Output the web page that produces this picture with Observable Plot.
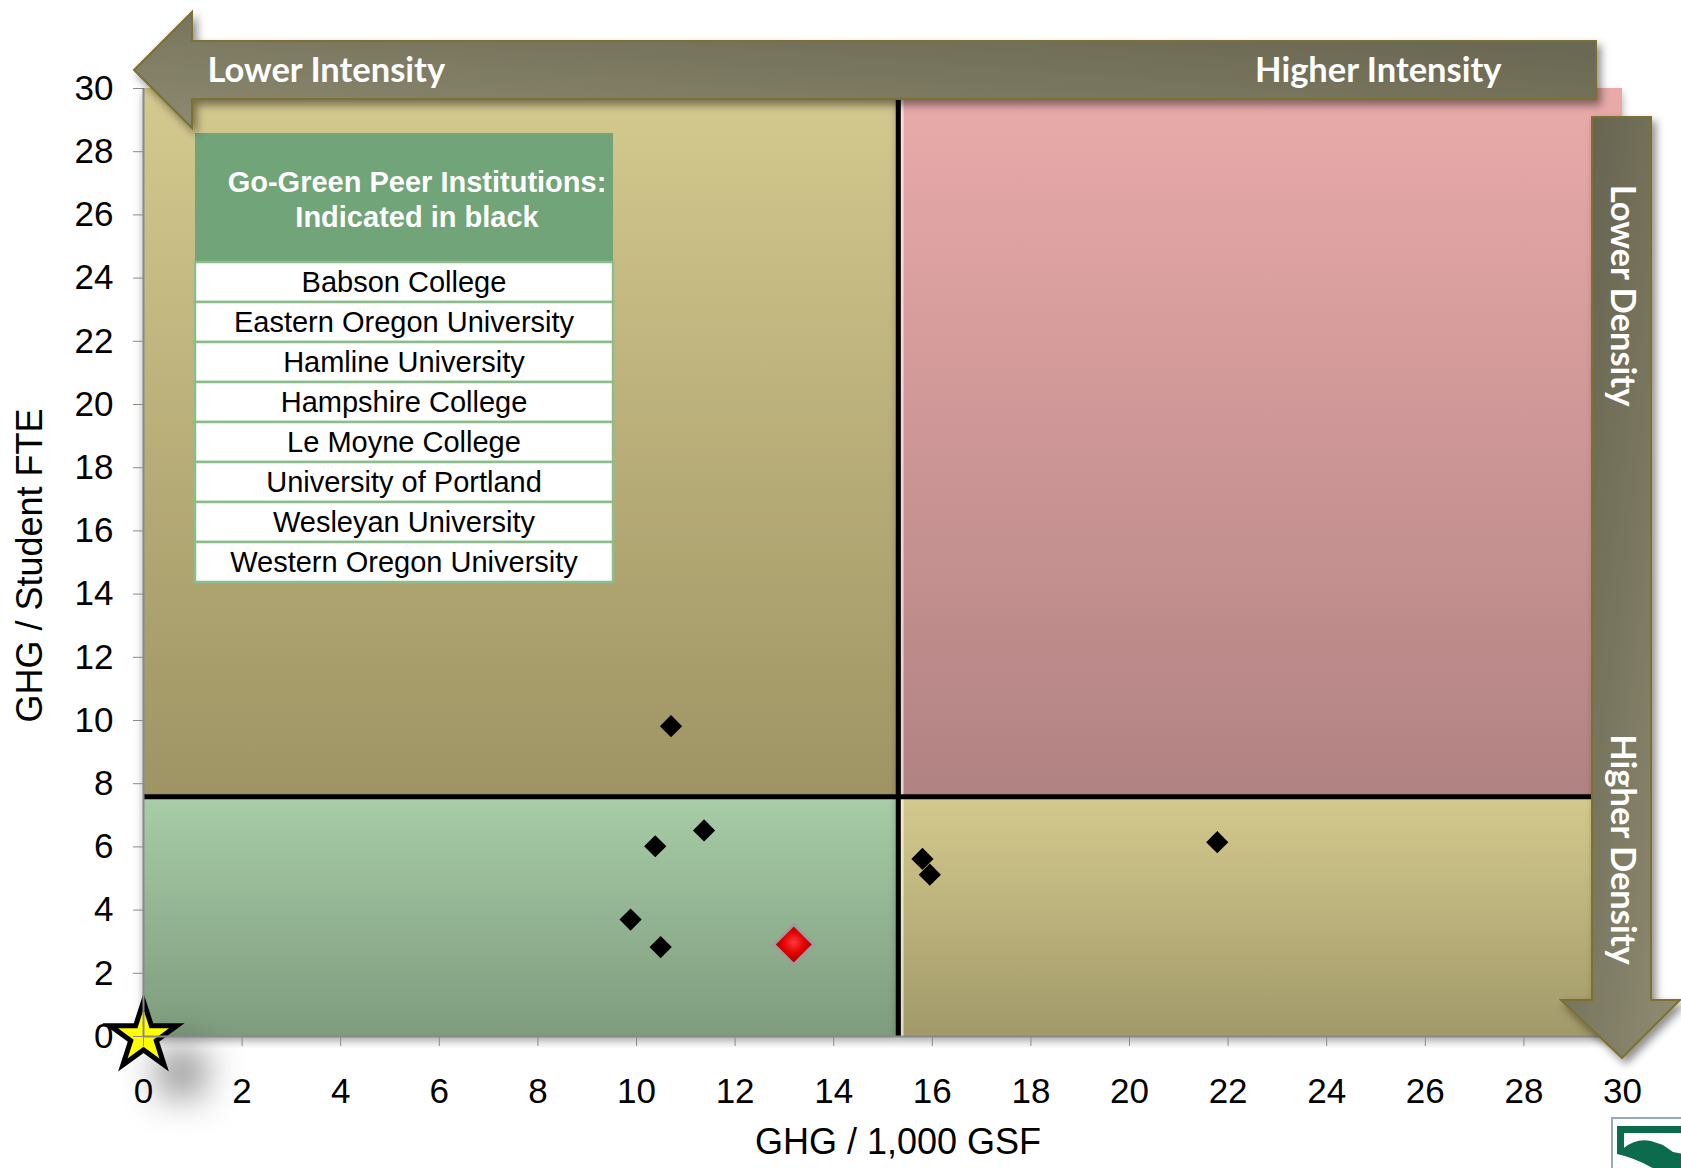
<!DOCTYPE html>
<html>
<head>
<meta charset="utf-8">
<script src="https://cdn.jsdelivr.net/npm/d3@7"></script>
<script src="https://cdn.jsdelivr.net/npm/@observablehq/plot@0.6"></script>
<style>
  html, body { margin: 0; padding: 0; background: #fff; }
  #chart { position: relative; width: 1681px; height: 1168px; overflow: hidden; }
</style>
</head>
<body>
<div id="chart"></div>
<script>
// Peer institutions (black diamonds): GHG per 1,000 GSF and GHG per student FTE
const peerNames = [
  "Babson College",
  "Eastern Oregon University",
  "Hamline University",
  "Hampshire College",
  "Le Moyne College",
  "University of Portland",
  "Wesleyan University",
  "Western Oregon University"
];
const peerGSF = [10.70, 10.38, 11.37, 9.88, 10.49, 15.80, 15.95, 21.78];
const peerFTE = [9.82, 6.02, 6.52, 3.70, 2.83, 5.62, 5.12, 6.15];

// Home campus (red gem)
const campusGSF = [13.19];
const campusFTE = [2.91];

// Carbon-neutral target (star at the origin)
const targetGSF = [0];
const targetFTE = [0];

// Quadrant split values
const splitGSF = 15.31;
const splitFTE = 7.59;

// Axis extent and tick values
const axisMax = 30;
const axisTicks = [0, 2, 4, 6, 8, 10, 12, 14, 16, 18, 20, 22, 24, 26, 28, 30];

// Text
const xTitle = "GHG / 1,000 GSF";
const yTitle = "GHG / Student FTE";
const tableTitle = ["Go-Green Peer Institutions:", "Indicated in black"];
const intensityLabels = ["Lower Intensity", "Higher Intensity"];
const densityLabels = ["Lower Density", "Higher Density"];

const peers = peerGSF.map((x, i) => ({x, y: peerFTE[i]}));
const campus = campusGSF.map((x, i) => ({x, y: campusFTE[i]}));
const target = targetGSF.map((x, i) => ({x, y: targetFTE[i]}));
const quadrant = {
  ul: [{x1: 0, x2: splitGSF, y1: splitFTE, y2: axisMax}],
  ll: [{x1: 0, x2: splitGSF, y1: 0, y2: splitFTE}],
  ur: [{x1: splitGSF, x2: axisMax, y1: splitFTE, y2: axisMax}],
  lr: [{x1: splitGSF, x2: axisMax, y1: 0, y2: splitFTE}]
};

const SANS = "'Liberation Sans', Arial, sans-serif";
const LABEL_FONT = "Lato, 'Open Sans', sans-serif";
const LABEL_SIZE = 34.5;

// Gradients and shadow filters shared by the marks
function defs() {
  const g = d3.create("svg:g");
  const d = g.append("defs");
  const lin = (id, stops, x1 = 0, y1 = 0, x2 = 0, y2 = 1) => {
    const lg = d.append("linearGradient").attr("id", id)
      .attr("x1", x1).attr("y1", y1).attr("x2", x2).attr("y2", y2);
    stops.forEach(([o, c]) => lg.append("stop").attr("offset", o).attr("stop-color", c));
  };
  lin("q-ul", [[0, "#d4c98e"], [1, "#9e9464"]]);
  lin("q-ll", [[0, "#a8cda7"], [1, "#7e9b7e"]]);
  lin("q-ur", [[0, "#eaaaaa"], [1, "#b18282"]]);
  lin("q-lr", [[0, "#d4ca8e"], [1, "#a19969"]]);
  lin("arrow-h", [[0, "#8e8a71"], [1, "#63614c"]], 0, 1, 1, 0);
  lin("arrow-v", [[0, "#605e4a"], [1, "#918d74"]], 0, 0, 1, 1);
  const rg = d.append("radialGradient").attr("id", "gem").attr("cx", 0.5).attr("cy", 0.45).attr("r", 0.6);
  rg.append("stop").attr("offset", 0).attr("stop-color", "#ff3a3a");
  rg.append("stop").attr("offset", 0.45).attr("stop-color", "#e00000");
  rg.append("stop").attr("offset", 1).attr("stop-color", "#8c0000");
  const f1 = d.append("filter").attr("id", "arrow-shadow")
    .attr("x", "-20%").attr("y", "-20%").attr("width", "150%").attr("height", "150%");
  f1.append("feDropShadow").attr("dx", 4).attr("dy", 5).attr("stdDeviation", 4)
    .attr("flood-color", "#000").attr("flood-opacity", 0.45);
  const f2 = d.append("filter").attr("id", "star-shadow").attr("filterUnits", "userSpaceOnUse")
    .attr("x", 0).attr("y", 880).attr("width", 420).attr("height", 288);
  f2.append("feDropShadow").attr("dx", 38).attr("dy", 36).attr("stdDeviation", 17)
    .attr("flood-color", "#000").attr("flood-opacity", 0.45);
  const f3 = d.append("filter").attr("id", "frame-shadow")
    .attr("x", "-5%").attr("y", "-5%").attr("width", "110%").attr("height", "110%");
  f3.append("feDropShadow").attr("dx", 0).attr("dy", 5).attr("stdDeviation", 4)
    .attr("flood-color", "#000").attr("flood-opacity", 0.35);
  return g.node();
}

// Peer list table in the upper-left quadrant
function peerTable(index, scales, values, dims) {
  const L = dims.marginLeft, T = dims.marginTop;
  const x0 = L + 52, w = 418, y0 = T + 45, headH = 129, rowH = 40;
  const g = d3.create("svg:g").attr("font-family", SANS);
  g.append("rect").attr("x", x0).attr("y", y0).attr("width", w).attr("height", headH).attr("fill", "#71a479");
  tableTitle.forEach((t, i) => {
    g.append("text").attr("x", x0 + w / 2 + 13).attr("y", y0 + 49 + 35 * i).attr("dy", "0.35em")
      .attr("text-anchor", "middle").attr("fill", "#fff").attr("font-weight", "bold")
      .attr("font-size", 29).text(t);
  });
  peerNames.forEach((n, i) => {
    const y = y0 + headH + i * rowH;
    g.append("rect").attr("x", x0).attr("y", y).attr("width", w).attr("height", rowH)
      .attr("fill", "#fff").attr("stroke", "#8dbd8d").attr("stroke-width", 2.5);
    g.append("text").attr("x", x0 + w / 2).attr("y", y + rowH / 2).attr("dy", "0.36em")
      .attr("text-anchor", "middle").attr("fill", "#000").attr("font-size", 29).text(n);
  });
  return g.node();
}

// Direction arrows along the top and right edges of the frame
function arrows(index, scales, values, dims) {
  const L = dims.marginLeft, T = dims.marginTop;
  const R = dims.width - dims.marginRight, B = dims.height - dims.marginBottom;
  const g = d3.create("svg:g").attr("filter", "url(#arrow-shadow)")
    .attr("stroke", "#7b6f33").attr("stroke-width", 2).attr("stroke-linejoin", "miter");
  const top = [[L - 9, T - 18], [L + 49, T - 76], [L + 49, T - 47], [R - 26, T - 47],
               [R - 26, T + 11], [L + 49, T + 11], [L + 49, T + 40]];
  const right = [[R - 30, T + 29], [R + 29, T + 29], [R + 29, B - 36], [R + 58, B - 36],
                 [R, B + 22], [R - 61, B - 36], [R - 30, B - 36]];
  const line = d3.line();
  g.append("path").attr("d", line(top) + "Z").attr("fill", "url(#arrow-h)");
  g.append("path").attr("d", line(right) + "Z").attr("fill", "url(#arrow-v)");
  return g.node();
}

// Partial campus logo in the bottom-right corner
function logo(index, scales, values, dims) {
  const W = dims.width, H = dims.height;
  const g = d3.create("svg:g");
  g.append("rect").attr("x", W - 69).attr("y", H - 50).attr("width", 90).attr("height", 70)
    .attr("fill", "#fff").attr("stroke", "#93a9c6").attr("stroke-width", 2);
  g.append("path")
    .attr("d", `M${W - 64},${H - 42} L${W + 2},${H - 42} L${W + 2},${H - 35} L${W - 57},${H - 35}
      L${W - 57},${H - 20} Q${W - 45},${H - 30} ${W - 30},${H - 27} L${W - 18},${H - 23}
      L${W - 8},${H - 16} L${W + 2},${H - 14} L${W + 2},${H + 2} L${W - 25},${H + 2}
      Q${W - 45},${H - 10} ${W - 64},${H - 14} Z`)
    .attr("fill", "#0b6b4c");
  return g.node();
}

const labelStyle = {fontFamily: LABEL_FONT, fontWeight: 700, fontSize: LABEL_SIZE, fill: "#fff", lineAnchor: "middle"};

const plot = Plot.plot({
  width: 1681,
  height: 1168,
  marginLeft: 143,
  marginRight: 59,
  marginTop: 88,
  marginBottom: 132,
  x: {domain: [0, axisMax]},
  y: {domain: [0, axisMax]},
  style: {fontFamily: SANS, color: "#000", background: "#fff", overflow: "visible"},
  marks: [
    defs,
    Plot.rect(quadrant.ul, {x1: "x1", x2: "x2", y1: "y1", y2: "y2", fill: "url(#q-ul)"}),
    Plot.rect(quadrant.ll, {x1: "x1", x2: "x2", y1: "y1", y2: "y2", fill: "url(#q-ll)"}),
    Plot.rect(quadrant.ur, {x1: "x1", x2: "x2", y1: "y1", y2: "y2", fill: "url(#q-ur)"}),
    Plot.rect(quadrant.lr, {x1: "x1", x2: "x2", y1: "y1", y2: "y2", fill: "url(#q-lr)"}),
    Plot.ruleX([splitGSF], {y1: 0, y2: axisMax, dx: 4, stroke: "#fff", strokeOpacity: 0.65, strokeWidth: 2.5}),
    Plot.ruleX([splitGSF], {y1: 0, y2: axisMax, stroke: "#000", strokeWidth: 5}),
    Plot.ruleY([splitFTE], {x1: 0, x2: axisMax, stroke: "#000", strokeWidth: 5}),
    peerTable,
    Plot.dot(peers, {x: "x", y: "y", symbol: "diamond2", r: 10, fill: "#000", stroke: "none"}),
    Plot.dot(campus, {x: "x", y: "y", symbol: "diamond2", r: 18, fill: "url(#gem)", stroke: "#9c9c9c", strokeWidth: 3}),
    Plot.dot(target, {x: "x", y: "y", symbol: "star", r: 21, fill: "#ffff00", stroke: "#000", strokeWidth: 5, strokeLinejoin: "miter"}),
    Plot.ruleX([0], {y1: 0, y2: axisMax, stroke: "#8a8a8a", strokeWidth: 2}),
    Plot.ruleY([0], {x1: 0, x2: axisMax, stroke: "#8a8a8a", strokeWidth: 2}),
    Plot.axisX(axisTicks, {tickSize: 10, tickPadding: 32, fontSize: 35, stroke: "#8a8a8a", label: null}),
    Plot.axisY(axisTicks, {tickSize: 10, tickPadding: 20, fontSize: 35, stroke: "#8a8a8a", label: null}),
    Plot.text([xTitle], {text: d => d, frameAnchor: "bottom", dx: 15, dy: 106, fontSize: 36, fill: "#000",
      textAnchor: "middle", lineAnchor: "middle"}),
    Plot.text([yTitle], {text: d => d, frameAnchor: "left", rotate: -90, dx: -113, dy: 3, fontSize: 36, fill: "#000",
      textAnchor: "middle", lineAnchor: "middle"}),
    arrows,
    Plot.text([intensityLabels[0]], {text: d => d, frameAnchor: "top-left", dx: 64, dy: -18, textAnchor: "start", ...labelStyle}),
    Plot.text([intensityLabels[1]], {text: d => d, frameAnchor: "top-right", dx: -121, dy: -18, textAnchor: "end", ...labelStyle}),
    Plot.text([densityLabels[0]], {text: d => d, frameAnchor: "top-right", rotate: 90, dy: 207, textAnchor: "middle", ...labelStyle}),
    Plot.text([densityLabels[1]], {text: d => d, frameAnchor: "top-right", rotate: 90, dy: 761, textAnchor: "middle", ...labelStyle}),
    logo
  ]
});

// Soft shadows on the frame and the target star
const root = d3.select(plot);
root.selectAll('[fill^="url(#q-"]').attr("filter", "url(#frame-shadow)");
root.selectAll('[fill="#ffff00"]').attr("filter", "url(#star-shadow)");

document.getElementById("chart").appendChild(plot);
</script>
</body>
</html>
